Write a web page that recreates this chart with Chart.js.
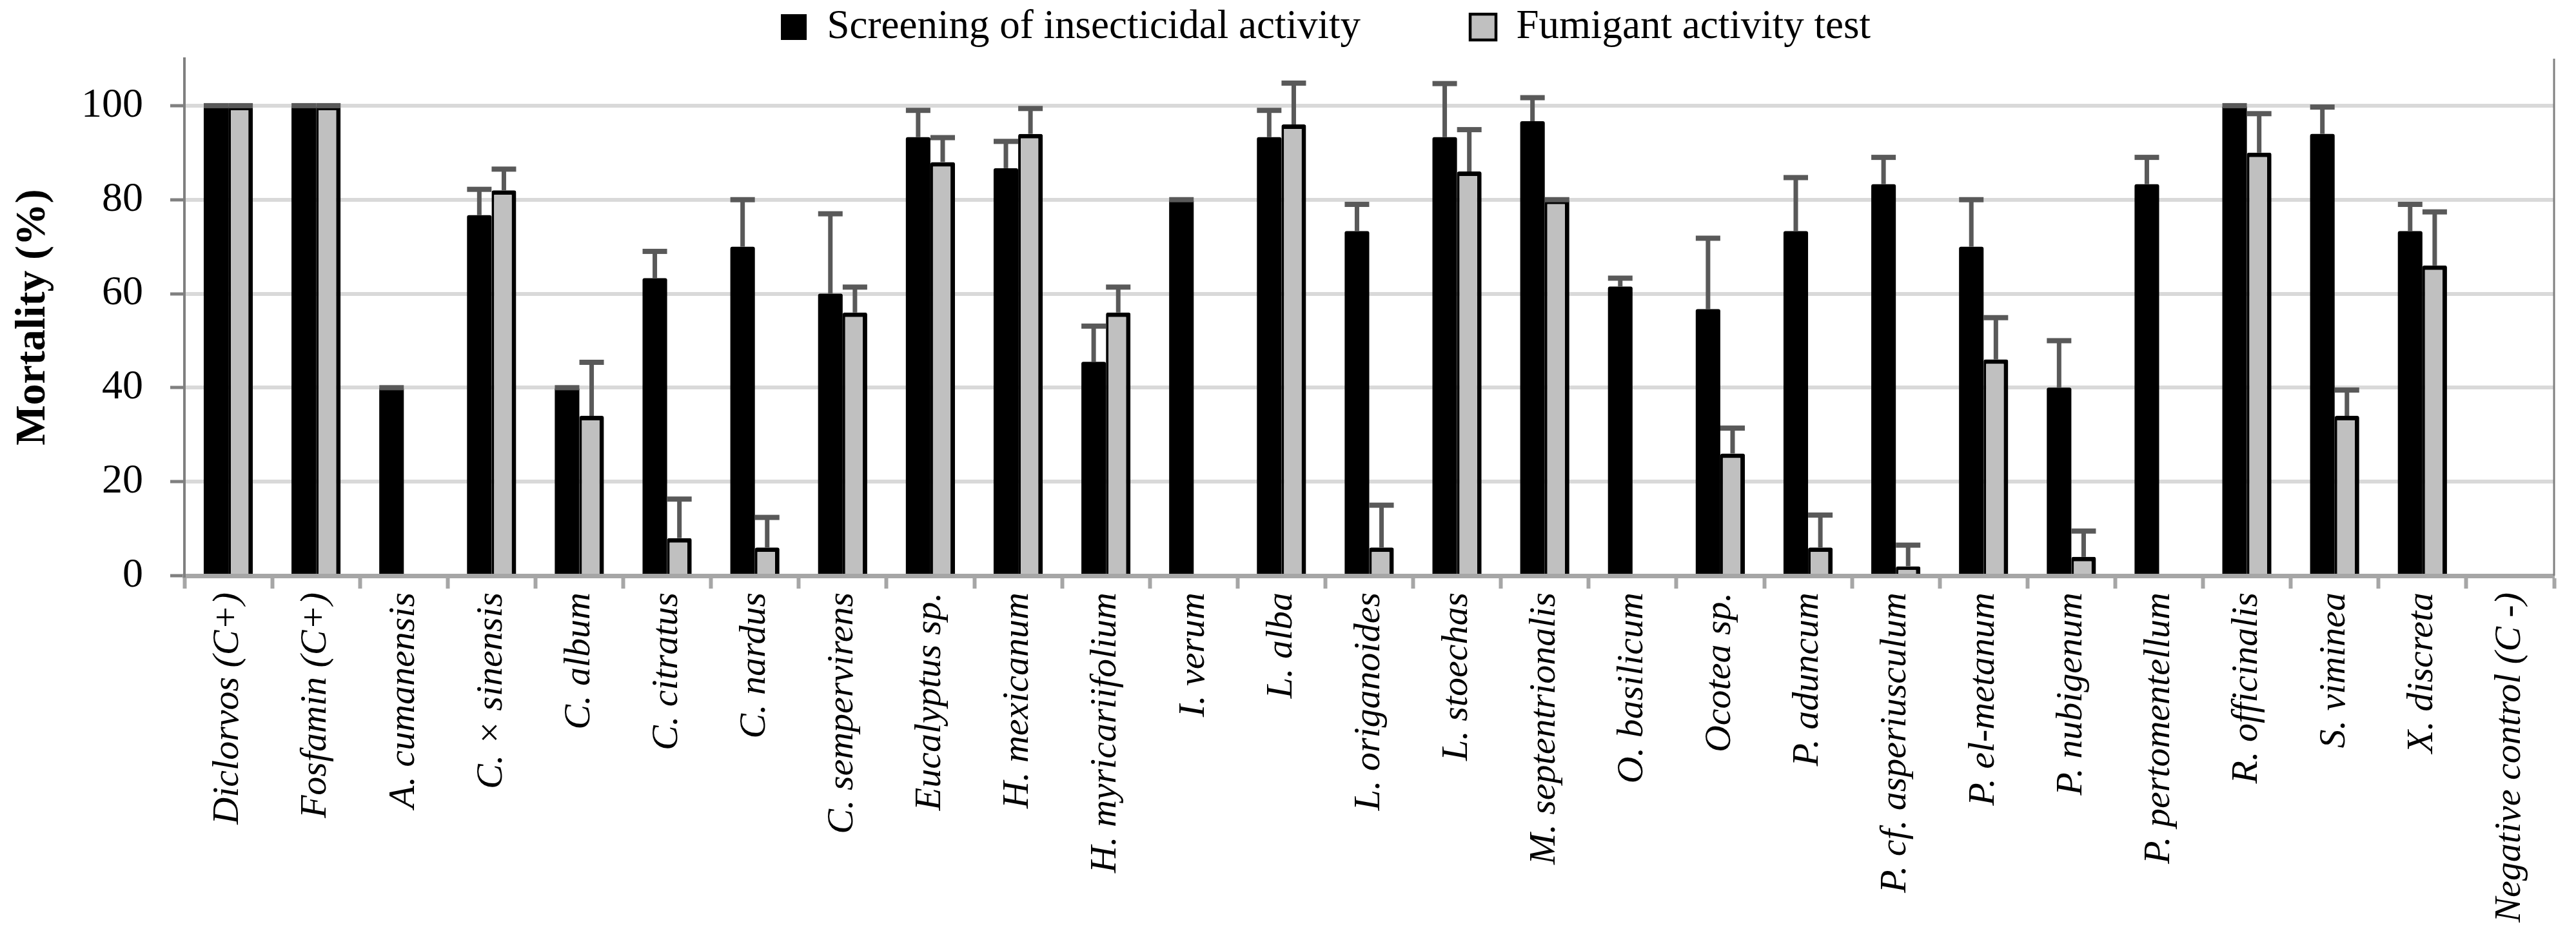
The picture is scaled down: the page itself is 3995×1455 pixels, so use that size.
<!DOCTYPE html>
<html>
<head>
<meta charset="utf-8">
<script src="https://cdn.jsdelivr.net/npm/chart.js@4.4.1/dist/chart.umd.min.js"></script>
<style>
  html, body { margin: 0; padding: 0; background: #fff; }
</style>
</head>
<body>
<canvas id="mortality" width="3995" height="1455"></canvas>
<script>
var categories = ['Diclorvos (C+)', 'Fosfamin (C+)', 'A. cumanensis', 'C. × sinensis', 'C. album',
  'C. citratus', 'C. nardus', 'C. sempervirens', 'Eucalyptus sp.', 'H. mexicanum',
  'H. myricariifolium', 'I. verum', 'L. alba', 'L. origanoides', 'L. stoechas',
  'M. septentrionalis', 'O. basilicum', 'Ocotea sp.', 'P. aduncum', 'P. cf. asperiusculum',
  'P. el-metanum', 'P. nubigenum', 'P. pertomentellum', 'R. officinalis', 'S. viminea',
  'X. discreta', 'Negative control (C -)'];

var screening    = [100, 100, 40, 76.7, 40, 63.3, 70, 60, 93.3, 86.7, 45.5, 80, 93.3, 73.3, 93.3, 96.7, 61.5, 56.7, 73.3, 83.3, 70, 40, 83.3, 100, 94, 73.3, 0];
var errScreening = [0, 0, 0, 5.5, 0, 5.7, 10, 17, 5.7, 5.7, 7.6, 0, 5.7, 5.7, 11.4, 5, 1.8, 15.1, 11.4, 5.7, 10, 10, 5.7, 0, 5.7, 5.7, 0];
var fumigant     = [100, 100, 0, 82, 34, 8, 6, 56, 88, 94, 56, 0, 96, 6, 86, 80, 0, 26, 6, 2, 46, 4, 0, 90, 34, 66, 0];
var errFumigant  = [0, 0, 0, 4.5, 11.4, 8.3, 6.4, 5.4, 5.2, 5.4, 5.4, 0, 8.8, 9, 8.9, 0, 0, 5.4, 6.9, 4.5, 8.9, 5.5, 0, 8.3, 5.5, 11.4, 0];

var yTicks = [0, 20, 40, 60, 80, 100];

var serif = "'Liberation Serif', serif";

// error bars (positive side only, with cap), drawn through the y scale
var errorBars = {
  id: 'errorBars',
  afterDatasetsDraw: function(chart) {
    var ctx = chart.ctx;
    var y = chart.scales.y;
    var errs = [errScreening, errFumigant];
    ctx.save();
    ctx.fillStyle = '#595959';
    chart.data.datasets.forEach(function(ds, i) {
      var meta = chart.getDatasetMeta(i);
      meta.data.forEach(function(bar, j) {
        var v = ds.data[j];
        if (!v) return;
        var top = y.getPixelForValue(v + errs[i][j]);
        var base = y.getPixelForValue(v);
        ctx.fillRect(bar.x - 3.5, top, 7, base - top);
        ctx.fillRect(bar.x - 19, top - 4, 38, 8);
      });
    });
    ctx.restore();
  }
};

// right frame line + legend placement
var frame = {
  id: 'frame',
  afterLayout: function(chart) {
    var L = chart.legend;
    var dx = 2056 - (L.left + L.right) / 2;
    L.left += dx; L.right += dx;
    L.top = 10.5 - L.options.labels.padding;
  },
  afterDraw: function(chart) {
    var a = chart.chartArea, ctx = chart.ctx;
    ctx.save();
    ctx.strokeStyle = '#808080';
    ctx.lineWidth = 3;
    ctx.beginPath();
    ctx.moveTo(a.right, a.top);
    ctx.lineTo(a.right, a.bottom);
    ctx.stroke();
    ctx.restore();
  }
};

new Chart(document.getElementById('mortality'), {
  type: 'bar',
  data: {
    labels: categories,
    datasets: [{
      label: 'Screening of insecticidal activity',
      data: screening,
      backgroundColor: '#000000',
      borderColor: '#000000',
      borderWidth: 0,
      borderRadius: 3
    }, {
      label: 'Fumigant activity test',
      data: fumigant,
      backgroundColor: '#c0c0c0',
      borderColor: '#000000',
      borderWidth: {top: 7, right: 7, bottom: 0, left: 4},
      borderRadius: 3
    }]
  },
  options: {
    responsive: false,
    devicePixelRatio: 1,
    animation: false,
    categoryPercentage: 0.56,
    barPercentage: 1,
    layout: { padding: { left: 0, right: 34, top: 0, bottom: 0 } },
    plugins: {
      tooltip: { enabled: false },
      legend: {
        position: 'top',
        maxHeight: 91,
        labels: {
          boxWidth: 40,
          boxHeight: 40,
          padding: 170,
          color: '#000',
          font: { family: serif, size: 63 }
        }
      }
    },
    scales: {
      x: {
        grid: {
          drawOnChartArea: false,
          offset: true,
          tickLength: 20,
          tickColor: '#a6a6a6',
          tickWidth: 6
        },
        border: { color: '#a6a6a6', width: 7 },
        ticks: {
          autoSkip: false,
          minRotation: 90,
          maxRotation: 90,
          padding: 6,
          color: '#000',
          font: { family: serif, size: 58, style: 'italic' }
        },
        afterFit: function(s) { s.height = 562; }
      },
      y: {
        min: 0,
        max: 110,
        ticks: {
          stepSize: 10,
          padding: 42,
          color: '#000',
          font: { family: serif, size: 64 },
          callback: function(v) { return yTicks.indexOf(v) >= 0 ? v : ''; }
        },
        grid: {
          color: function(c) {
            var v = c.tick.value;
            if (v === 110) return '#808080';
            return (v > 0 && v % 20 === 0) ? '#d9d9d9' : 'rgba(0,0,0,0)';
          },
          lineWidth: function(c) { return c.tick.value === 110 ? 4 : 6; },
          tickColor: '#808080',
          tickWidth: 5,
          tickLength: 22
        },
        border: { color: '#808080', width: 4 },
        title: {
          display: true,
          text: 'Mortality (%)',
          color: '#000',
          padding: { top: 12, bottom: 0 },
          font: { family: serif, size: 66, weight: 'bold' }
        },
        afterFit: function(s) { s.width = 286; }
      }
    }
  },
  plugins: [errorBars, frame]
});
</script>
</body>
</html>
